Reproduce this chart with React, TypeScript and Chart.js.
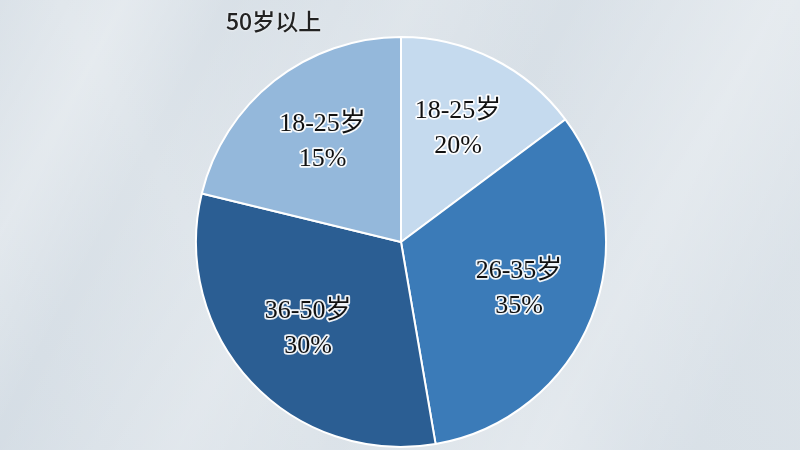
import React, { useEffect, useRef } from "react";
import { Chart, registerables } from "chart.js";

Chart.register(...registerables);

const categories = ["18-25岁", "26-35岁", "36-50岁", "18-25岁"];
const shares = [14.8, 32.5, 31.5, 21.2];
const percentLabels = ["20%", "35%", "30%", "15%"];
const sliceColors = ["#c5daee", "#3b7bb8", "#2b5e93", "#94b8db"];
const titleText = "50岁以上";

const labelPlugin = {
  id: "sliceLabels",
  afterDatasetsDraw(chart: any) {
    const ctx = chart.ctx as CanvasRenderingContext2D;
    const meta = chart.getDatasetMeta(0);
    meta.data.forEach((arc: any, i: number) => {
      const p = arc.getProps(["x", "y", "startAngle", "endAngle", "outerRadius"], true);
      const mid = (p.startAngle + p.endAngle) / 2;
      const r = p.outerRadius * 0.62;
      const cx = p.x + Math.cos(mid) * r;
      const cy = p.y + Math.sin(mid) * r;
      const lines = [categories[i], percentLabels[i]];
      ctx.save();
      ctx.font = '26px "Liberation Serif", "Noto Sans CJK SC", serif';
      ctx.textAlign = "center";
      ctx.textBaseline = "middle";
      ctx.lineJoin = "round";
      lines.forEach((t, k) => {
        const ly = cy + (k - 0.5) * 35;
        ctx.strokeStyle = "rgba(255,255,255,0.92)";
        ctx.lineWidth = 3.5;
        ctx.strokeText(t, cx, ly);
        ctx.fillStyle = "#111";
        ctx.fillText(t, cx, ly);
      });
      ctx.restore();
    });
  },
};

export default function App() {
  const ref = useRef<HTMLCanvasElement | null>(null);
  useEffect(() => {
    document.body.style.margin = "0";
    if (!ref.current) return;
    const chart = new Chart(ref.current, {
      type: "pie",
      data: {
        labels: categories,
        datasets: [
          {
            data: shares,
            backgroundColor: sliceColors,
            borderColor: "#ffffff",
            borderWidth: 2,
            radius: 205,
          } as any,
        ],
      },
      options: {
        animation: false,
        responsive: false,
        devicePixelRatio: 1,
        layout: { padding: { top: 34, left: 2, right: 0, bottom: 0 } },
        plugins: {
          legend: { display: false },
          tooltip: { enabled: false },
          title: { display: false },
        },
      },
      plugins: [labelPlugin],
    });
    return () => chart.destroy();
  }, []);
  return (
    <div
      style={{
        position: "relative",
        width: 800,
        height: 450,
        overflow: "hidden",
        background:
          "linear-gradient(118deg, rgba(255,255,255,0.0) 0%, rgba(255,255,255,0.28) 12%, rgba(255,255,255,0.0) 22%, rgba(255,255,255,0.22) 40%, rgba(255,255,255,0) 55%, rgba(255,255,255,0.3) 75%, rgba(255,255,255,0.05) 90%), linear-gradient(60deg, rgba(180,195,210,0.18) 0%, rgba(255,255,255,0) 30%, rgba(180,195,210,0.15) 60%, rgba(255,255,255,0) 100%), #dce3e9",
      }}
    >
      <canvas ref={ref} width={800} height={450} style={{ display: "block" }} />
      <div
        style={{
          position: "absolute",
          left: 226,
          top: 5,
          fontFamily: '"Noto Sans CJK SC", "Noto Sans", sans-serif',
          fontSize: 23,
          fontWeight: 500,
          color: "#222",
          textShadow: "0 0 3px rgba(255,255,255,0.9)",
          lineHeight: "30px",
        }}
      >
        {titleText}
      </div>
    </div>
  );
}
